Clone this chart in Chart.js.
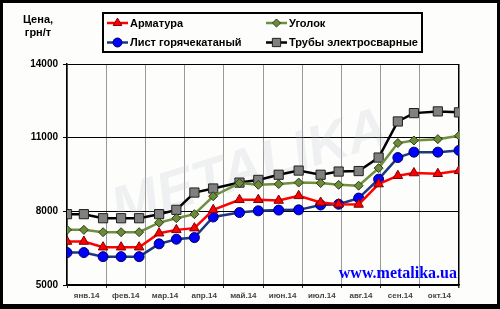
<!DOCTYPE html>
<html><head><meta charset="utf-8">
<script src="https://cdn.jsdelivr.net/npm/chart.js@4/dist/chart.umd.min.js"></script>
<style>html,body{margin:0;padding:0;background:#fdfdfb;} canvas{display:block;}</style>
</head><body>
<canvas id="c" width="500" height="309"></canvas>
<script>
const monthLabels = ['янв.14','фев.14','мар.14','апр.14','май.14','июн.14','июл.14','авг.14','сен.14','окт.14'];
const pointMonths = [0.00,0.43,0.92,1.38,1.84,2.35,2.79,3.25,3.73,4.40,4.88,5.40,5.91,6.47,6.93,7.44,7.95,8.44,8.85,9.46,10.00];
const armatura = [6770,6770,6540,6540,6540,7110,7245,7315,8060,8470,8470,8440,8630,8360,8290,8280,9110,9450,9560,9530,9650];
const ugolok   = [7245,7245,7150,7150,7150,7540,7720,7885,8615,9150,9080,9110,9170,9150,9080,9045,9760,10780,10885,10940,11080];
const list     = [6320,6320,6155,6155,6155,6675,6865,6930,7770,7950,8020,8050,8060,8260,8290,8540,9310,10190,10410,10410,10480];
const truby    = [7885,7885,7720,7720,7720,7885,8060,8765,8930,9170,9280,9490,9660,9490,9620,9640,10190,11660,12000,12070,12030];
const yTicks = [5000,8000,11000,14000];
const seriesNames = ['Арматура','Уголок','Лист горячекатаный','Трубы электросварные'];
const yTitle = ['Цена,','грн/т'];
const siteText = 'www.metalika.ua';

const toXY = arr => pointMonths.map((x,i)=>({x:x, y:arr[i]}));
const FONT = "'Liberation Sans', Arial, sans-serif";

const datasets = [
  {label:seriesNames[0], data:toXY(armatura), borderColor:'#ff0000', borderWidth:2.5, pointStyle:'triangle', pointRadius:5.5, pointBackgroundColor:'#ff0000', pointBorderColor:'#7a0000', pointBorderWidth:1},
  {label:seriesNames[1], data:toXY(ugolok), borderColor:'#6f8f3f', borderWidth:2.5, pointStyle:'rectRot', pointRadius:4.5, pointBackgroundColor:'#6b8a3a', pointBorderColor:'#2e3d16', pointBorderWidth:1},
  {label:seriesNames[2], data:toXY(list), borderColor:'#1c3680', borderWidth:2.5, pointStyle:'circle', pointRadius:5, pointBackgroundColor:'#0000ff', pointBorderColor:'#000060', pointBorderWidth:1},
  {label:seriesNames[3], data:toXY(truby), borderColor:'#000000', borderWidth:2.5, pointStyle:'rect', pointRadius:6.5, pointBackgroundColor:'#808080', pointBorderColor:'#202020', pointBorderWidth:1}
];

const isInt = v => Math.abs(v - Math.round(v)) < 1e-6;

const watermark = {
  id:'watermark',
  beforeDatasetsDraw(chart){
    const ctx = chart.ctx;
    ctx.save();
    ctx.translate(250,170);
    ctx.rotate(-0.3);
    ctx.font = "italic bold 56px " + FONT;
    ctx.textAlign='center'; ctx.textBaseline='middle';
    ctx.fillStyle='rgba(190,198,206,0.22)';
    ctx.fillText('METALIKA',0,0);
    ctx.restore();
  }
};

const decor = {
  id:'decor',
  afterDraw(chart){
    const ctx = chart.ctx;
    ctx.save();
    ctx.fillStyle='#000';
    ctx.fillRect(0,0,500,3);
    ctx.fillRect(0,0,3,309);
    ctx.fillRect(497,0,3,309);
    ctx.fillRect(0,304,500,5);
    ctx.font = "bold 11px " + FONT;
    ctx.textAlign='center'; ctx.textBaseline='middle';
    ctx.fillStyle='#000';
    ctx.fillText(yTitle[0],38,20);
    ctx.fillText(yTitle[1],38,33);
    ctx.lineWidth=2; ctx.strokeStyle='#000';
    ctx.strokeRect(103,13,319,39);
    const pos = [[107,23],[266,23],[107,42.5],[266,42.5]];
    datasets.forEach((ds,i)=>{
      const [x,y] = pos[i];
      ctx.strokeStyle = ds.borderColor; ctx.lineWidth = 2.5;
      ctx.beginPath(); ctx.moveTo(x,y); ctx.lineTo(x+21,y); ctx.stroke();
      ctx.fillStyle = ds.pointBackgroundColor; ctx.strokeStyle = ds.pointBorderColor; ctx.lineWidth = 1;
      Chart.helpers.drawPoint(ctx,{pointStyle:ds.pointStyle, radius:ds.pointRadius*0.9, rotation:0, borderWidth:1}, x+10.5, y);
      ctx.fillStyle='#000';
      ctx.font = "bold 11px " + FONT;
      ctx.textAlign='left'; ctx.textBaseline='middle';
      ctx.fillText(ds.label, x+23, y+0.5);
    });
    ctx.font = "bold 16px 'Liberation Serif', 'Times New Roman', serif";
    ctx.textAlign='right'; ctx.textBaseline='alphabetic';
    ctx.fillStyle='#0000ff';
    ctx.fillText(siteText,457,278);
    ctx.restore();
  }
};

new Chart(document.getElementById('c'), {
  type:'line',
  data:{datasets:datasets},
  plugins:[watermark, decor],
  options:{
    responsive:false, animation:false,
    layout:{padding:{left:0,right:41,top:64,bottom:0}},
    plugins:{legend:{display:false}, tooltip:{enabled:false}},
    elements:{line:{tension:0}},
    scales:{
      x:{
        type:'linear', min:0, max:10,
        afterBuildTicks: s=>{ const t=[]; for(let v=0; v<=10; v+=0.5) t.push({value:v}); s.ticks=t; },
        afterFit: s=>{ s.height=24; },
        border:{display:true,color:'#000',width:1.5},
        grid:{
          color: c=> (c.tick && isInt(c.tick.value)) ? (c.tick.value===10 ? '#000' : '#9a9a9a') : 'rgba(0,0,0,0)',
          lineWidth: c=> (c.tick && c.tick.value===10) ? 1.5 : 1,
          tickColor: c=> (c.tick && isInt(c.tick.value)) ? '#333' : 'rgba(0,0,0,0)',
          tickLength:3, drawTicks:true
        },
        ticks:{autoSkip:false, maxRotation:0, minRotation:0, padding:3, color:'#444',
          font:{family:FONT, size:8, weight:'bold'},
          callback:(v)=> isInt(v) ? '' : monthLabels[Math.floor(v)]
        }
      },
      y:{
        min:5000, max:14000,
        afterBuildTicks: s=>{ s.ticks = yTicks.map(v=>({value:v})); },
        afterFit: s=>{ s.width=67; },
        border:{color:'#000',width:1.5},
        grid:{color:'#000', lineWidth:1, tickLength:4},
        ticks:{padding:5, color:'#000', font:{family:FONT, size:10, weight:'bold'},
          callback:(v)=> String(v)
        }
      }
    }
  }
});
</script>
</body></html>
